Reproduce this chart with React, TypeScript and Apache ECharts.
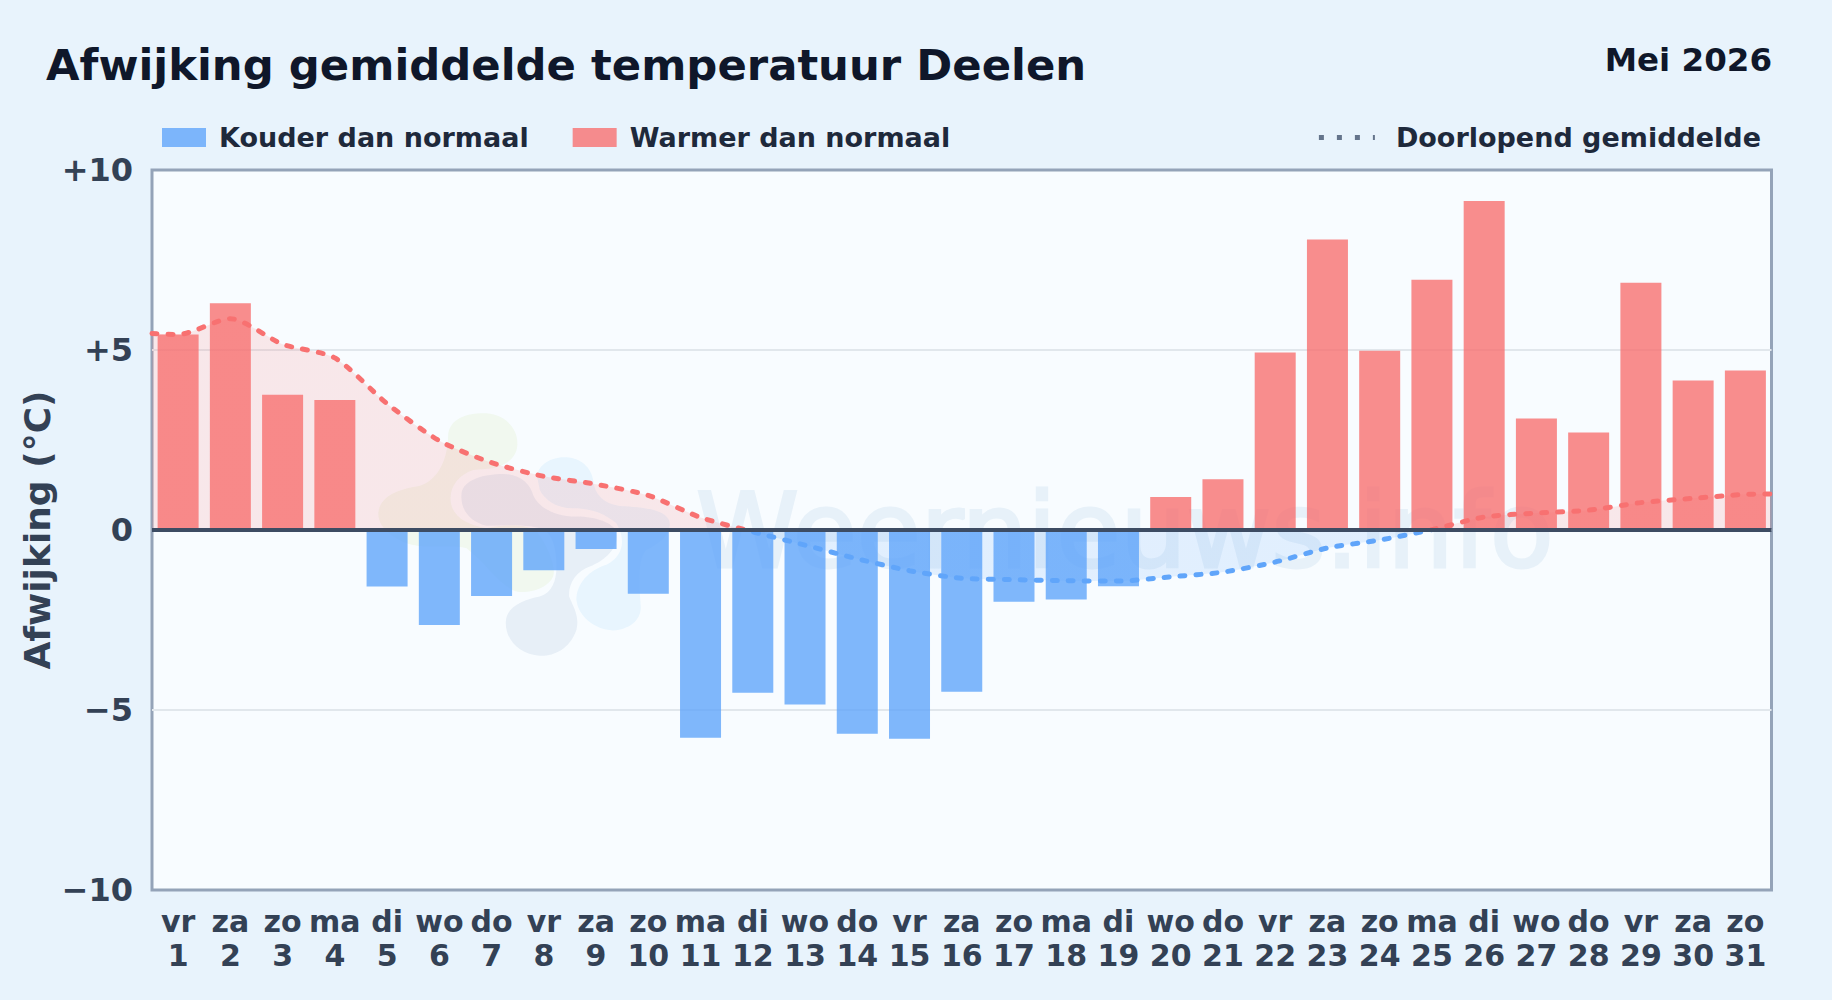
import React, { useEffect, useRef } from "react";
import * as echarts from "echarts";

const FONT = '"DejaVu Sans", sans-serif';

const titleText = "Afwijking gemiddelde temperatuur Deelen";
const periodText = "Mei 2026";
const watermarkText = "Weernieuws.info";
const yAxisName = "Afwijking (°C)";
const coldName = "Kouder dan normaal";
const warmName = "Warmer dan normaal";
const avgName = "Doorlopend gemiddelde";

const weekdays = ["vr","za","zo","ma","di","wo","do","vr","za","zo","ma","di","wo","do","vr","za","zo","ma","di","wo","do","vr","za","zo","ma","di","wo","do","vr","za","zo"];
const days = [1,2,3,4,5,6,7,8,9,10,11,12,13,14,15,16,17,18,19,20,21,22,23,24,25,26,27,28,29,30,31];
const deviations = [5.43,6.3,3.76,3.61,-1.57,-2.64,-1.83,-1.12,-0.53,-1.77,-5.77,-4.52,-4.85,-5.66,-5.8,-4.49,-1.99,-1.93,-1.56,0.92,1.41,4.93,8.07,4.98,6.95,9.14,3.1,2.71,6.87,4.15,4.43];
const runningAverage = [5.43,5.87,5.16,4.78,3.51,2.48,1.87,1.49,1.27,0.96,0.35,-0.05,-0.42,-0.8,-1.13,-1.34,-1.38,-1.41,-1.42,-1.3,-1.17,-0.89,-0.5,-0.28,0.01,0.36,0.47,0.55,0.76,0.88,0.99];
const lineStartValue = 5.46;
const lineEndValue = 1.0;

const blobGreen = "M265 100 C275 50 330 38 380 40 C440 45 478 90 472 140 C468 175 440 195 400 205 L340 210 C295 225 270 260 272 300 C275 350 320 375 380 385 C440 372 510 375 530 395 C560 430 590 500 580 530 C565 565 510 582 470 575 C420 560 380 490 320 445 C270 430 190 450 140 430 C90 410 55 380 55 340 C60 290 110 270 170 260 C225 250 265 190 265 100 Z";
const blobGray = "M305 280 C310 240 370 222 430 222 C480 222 510 250 520 285 C535 320 580 350 650 350 C710 350 760 370 770 395 C780 440 740 480 690 500 C650 515 625 550 628 590 C640 620 660 650 650 690 C630 750 580 770 540 768 C480 765 435 720 438 665 C440 620 490 600 540 590 C575 580 590 545 590 500 C590 450 580 395 540 385 C500 375 440 375 380 378 C330 365 300 330 305 280 Z";
const blobBlue = "M532 230 C535 190 580 170 620 172 C665 175 695 205 700 240 C705 285 730 310 780 318 C840 322 910 325 928 360 C940 400 900 430 860 450 C830 480 840 570 843 620 C845 660 810 690 760 692 C705 690 655 650 650 600 C650 550 690 510 740 495 C790 470 800 420 770 370 C740 345 700 325 640 325 C590 325 555 300 540 270 Z";

echarts.graphic.registerShape("wnGreen", echarts.graphic.extendPath(blobGreen, {}) as any);
echarts.graphic.registerShape("wnGray", echarts.graphic.extendPath(blobGray, {}) as any);
echarts.graphic.registerShape("wnBlue", echarts.graphic.extendPath(blobBlue, {}) as any);

export default function App() {
  const ref = useRef<HTMLDivElement>(null);
  useEffect(() => {
    document.body.style.margin = "0";
    const chart = echarts.init(ref.current!, null, { renderer: "svg" });
    const categories = days.map((d, i) => `${weekdays[i]}\n${d}`);
    const linePoints: [number, number][] = [
      [0.5, lineStartValue],
      ...days.map((d, i) => [d, runningAverage[i]] as [number, number]),
      [31.5, lineEndValue],
    ];
    const logo = (type: string, fill: string) => ({
      type, x: 360, y: 400, scaleX: 1 / 3, scaleY: 1 / 3, z: 1, silent: true, style: { fill },
    });
    chart.setOption({
      animation: false,
      backgroundColor: "#e8f3fc",
      textStyle: { fontFamily: FONT },
      title: [
        { text: titleText, left: 41, top: 38, textStyle: { fontFamily: FONT, fontSize: 43.35, fontWeight: "bold", color: "#0f172a" } },
        { text: periodText, right: 55, top: 38, textStyle: { fontFamily: FONT, fontSize: 32.5, fontWeight: "bold", color: "#0f172a" } },
      ],
      legend: [
        {
          data: [coldName, warmName], left: 157, top: 119, itemWidth: 44, itemHeight: 19, itemGap: 44, icon: "rect",
          textStyle: { fontFamily: FONT, fontSize: 27, fontWeight: "bold", color: "#1e293b", padding: [0, 0, 0, 8] },
        },
        {
          data: [avgName], right: 66, top: 119, itemWidth: 56, itemHeight: 19,
          itemStyle: { opacity: 0 },
          lineStyle: { type: [5, 13], width: 5, color: "#64748b", cap: "butt" },
          textStyle: { fontFamily: FONT, fontSize: 27, fontWeight: "bold", color: "#1e293b", padding: [0, 0, 0, 16] },
        },
      ],
      grid: {
        left: 152, top: 170, width: 1619.5, height: 720, show: true,
        backgroundColor: "#f8fcff", borderColor: "#94a3b8", borderWidth: 3,
      },
      xAxis: [
        {
          type: "category", data: categories, position: "bottom",
          axisLine: { show: false }, axisTick: { show: false }, splitLine: { show: false },
          axisLabel: { interval: 0, margin: 14, fontFamily: FONT, fontSize: 30, fontWeight: "bold", color: "#334155", lineHeight: 34 },
        },
        { type: "value", min: 0.5, max: 31.5, show: false, splitLine: { show: false } },
      ],
      yAxis: {
        type: "value", min: -10, max: 10, interval: 5,
        name: yAxisName, nameLocation: "middle", nameRotate: 90, nameGap: 97, nameMoveOverlap: false,
        nameTextStyle: { fontFamily: FONT, fontSize: 36, fontWeight: "bold", color: "#334155" },
        axisLine: { show: false }, axisTick: { show: false },
        splitLine: { show: true, showMinLine: false, showMaxLine: false, lineStyle: { color: "#e1e7ec", width: 2 } },
        axisLabel: {
          margin: 19, fontFamily: FONT, fontSize: 32, fontWeight: "bold", color: "#334155",
          formatter: (v: number) => (v > 0 ? `+${v}` : v < 0 ? `\u2212${-v}` : "0"),
        },
      },
      visualMap: {
        show: false, type: "piecewise", seriesIndex: 2, dimension: 1,
        pieces: [{ min: -10, max: 0, color: "#60a5fa" }, { min: 0, max: 10, color: "#f87171" }],
      },
      series: [
        {
          name: coldName, type: "bar", barWidth: 41, barGap: "-100%",
          data: deviations.map((v) => (v < 0 ? v : null)),
          itemStyle: { color: "#60a5fa", opacity: 0.8 },
        },
        {
          name: warmName, type: "bar", barWidth: 41, barGap: "-100%",
          data: deviations.map((v) => (v > 0 ? v : null)),
          itemStyle: { color: "#f87171", opacity: 0.8 },
        },
        {
          name: avgName, type: "line", xAxisIndex: 1, data: linePoints, smooth: 0.25,
          showSymbol: false, symbol: "none",
          lineStyle: { width: 5, type: [5, 11], cap: "round" },
          areaStyle: { opacity: 0.15 },
          markLine: {
            silent: true, symbol: "none", label: { show: false },
            lineStyle: { color: "#3d4c63", width: 4, type: "solid" },
            data: [{ yAxis: 0 }],
          },
        },
      ],
      graphic: [
        { type: "text", x: 696, y: 479, z: 1, silent: true, style: { text: watermarkText, fontFamily: FONT, fontSize: 104, fontWeight: "normal", fill: "#e7f1f9", stroke: "#e7f1f9", lineWidth: 3 } },
        logo("wnGreen", "rgba(190,225,130,0.13)"),
        logo("wnBlue", "rgba(125,200,250,0.13)"),
        logo("wnGray", "rgba(70,110,170,0.09)"),
      ],
    });
    return () => chart.dispose();
  }, []);
  return <div ref={ref} style={{ width: 1832, height: 1000 }} />;
}
